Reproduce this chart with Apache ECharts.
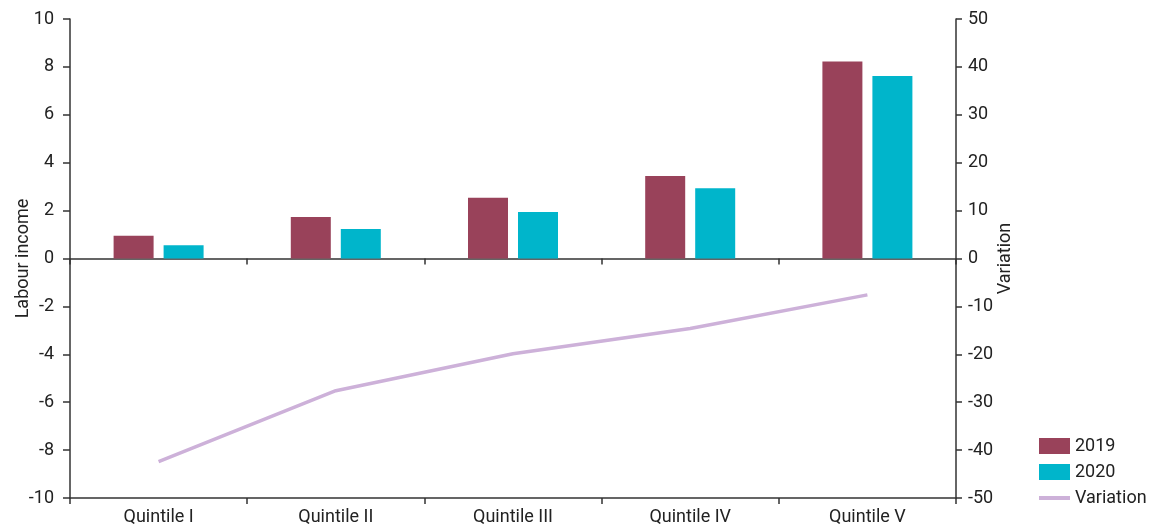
<!DOCTYPE html>
<html><head><meta charset="utf-8">
<script src="https://cdn.jsdelivr.net/npm/echarts@6/dist/echarts.min.js"></script>
<style>html,body{margin:0;padding:0;background:#fff}#c{width:1153px;height:528px}</style>
</head><body><div id="c"></div>
<script>
const categories = ['Quintile I','Quintile II','Quintile III','Quintile IV','Quintile V'];
const values2019 = [0.95, 1.73, 2.54, 3.44, 8.23];
const values2020 = [0.55, 1.23, 1.94, 2.93, 7.62];
const variation = [-42.4, -27.6, -19.9, -14.6, -7.6];
const leftTicks = {min: -10, max: 10, interval: 2};
const rightTicks = {min: -50, max: 50, interval: 10};

const FONT = '"Roboto", "Liberation Sans", sans-serif';
const TXT = '#222';
const AX = '#333';
const chart = echarts.init(document.getElementById('c'), null, {renderer: 'canvas'});
chart.setOption({
  animation: false,
  textStyle: {fontFamily: FONT, color: TXT},
  grid: {left: 70, right: 197, top: 19, bottom: 30, containLabel: false, outerBoundsMode: 'none'},
  legend: {
    orient: 'vertical', left: 1039, top: 437, padding: 0, itemWidth: 31, itemHeight: 16, itemGap: 8,
    textStyle: {fontFamily: FONT, fontSize: 18, color: TXT, lineHeight: 18},
    data: [
      {name: '2019', icon: 'rect'},
      {name: '2020', icon: 'rect'},
      {name: 'Variation', icon: 'path://M0,0 L31,0 L31,4 L0,4 Z'}
    ]
  },
  xAxis: [
    {type: 'category', data: categories, position: 'bottom',
     axisLine: {onZero: false, lineStyle: {color: AX, width: 1.5}},
     axisTick: {show: true, length: 6, lineStyle: {color: AX, width: 1.5}},
     axisLabel: {fontFamily: FONT, fontSize: 18, color: TXT, margin: 10}},
    {type: 'category', data: categories, position: 'bottom',
     axisLine: {onZero: true, lineStyle: {color: AX, width: 1.5}},
     axisTick: {show: true, length: 6, lineStyle: {color: AX, width: 1.5}},
     axisLabel: {show: false}}
  ],
  yAxis: [
    {type: 'value', min: leftTicks.min, max: leftTicks.max, interval: leftTicks.interval,
     name: 'Labour income', nameLocation: 'middle', nameGap: 38, nameRotate: 90, nameMoveOverlap: false,
     nameTextStyle: {fontFamily: FONT, fontSize: 18, color: TXT},
     axisLine: {show: true, lineStyle: {color: AX, width: 1.5}},
     axisTick: {show: true, length: 7, lineStyle: {color: AX, width: 1.5}},
     axisLabel: {fontFamily: FONT, fontSize: 18, color: TXT, margin: 16},
     splitLine: {show: false}},
    {type: 'value', min: rightTicks.min, max: rightTicks.max, interval: rightTicks.interval,
     position: 'right',
     name: 'Variation', nameLocation: 'middle', nameGap: 40, nameRotate: 90, nameMoveOverlap: false,
     nameTextStyle: {fontFamily: FONT, fontSize: 18, color: TXT},
     axisLine: {show: true, lineStyle: {color: AX, width: 1.5}},
     axisTick: {show: true, length: 6, lineStyle: {color: AX, width: 1.5}},
     axisLabel: {fontFamily: FONT, fontSize: 18, color: TXT, margin: 12},
     splitLine: {show: false}}
  ],
  series: [
    {name: '2019', type: 'bar', data: values2019, xAxisIndex: 0, yAxisIndex: 0,
     barWidth: 40, barGap: '25%', itemStyle: {color: '#99425A'}},
    {name: '2020', type: 'bar', data: values2020, xAxisIndex: 0, yAxisIndex: 0,
     barWidth: 40, barGap: '25%', itemStyle: {color: '#00B5CB'}},
    {name: 'Variation', type: 'line', data: variation, xAxisIndex: 0, yAxisIndex: 1,
     symbol: 'none', lineStyle: {color: '#CDB1D9', width: 3.5}, itemStyle: {color: '#CDB1D9'}}
  ]
});
</script></body></html>
